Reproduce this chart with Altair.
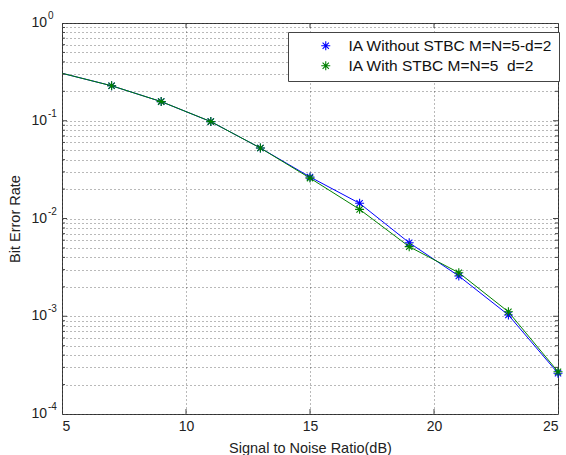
import altair as alt
import pandas as pd

# ---- data ----
snr = [5, 7, 9, 11, 13, 15, 17, 19, 21, 23, 25]
ber_without = [0.306, 0.228, 0.157, 0.098, 0.0526, 0.0266, 0.0143, 0.00565, 0.00258, 0.00103, 0.000261]
ber_with = [0.306, 0.228, 0.157, 0.098, 0.0526, 0.0259, 0.0124, 0.00515, 0.00279, 0.00111, 0.000271]
series_names = ["IA Without STBC M=N=5-d=2", "IA With STBC M=N=5\u00a0 d=2"]
series_colors = ["#0000ff", "#008000"]
x_ticks = [5, 10, 15, 20, 25]
x_inner_ticks = [10, 15, 20]
y_decades = [1e-4, 1e-3, 1e-2, 1e-1, 1.0]
y_exponents = ["-4", "-3", "-2", "-1", "0"]
y_major_inner = [1e-3, 1e-2, 1e-1]
y_minor = [m * 10.0 ** k for k in range(-4, 0) for m in range(2, 10)]
y_grid = sorted(y_minor + y_decades)

W, H = 496, 391
FONT = "Liberation Sans"
FRAME = "#444444"
ASTERISK = "M-1,0L1,0M0,-1L0,1M-0.7,-0.7L0.7,0.7M-0.7,0.7L0.7,-0.7"

rows = []
for name, vals in ((series_names[0], ber_without), (series_names[1], ber_with)):
    for x, v in zip(snr, vals):
        rows.append({"snr": x, "ber": v, "series": name})
df = pd.DataFrame(rows)

xscale = alt.Scale(domain=[5, 25], nice=False, zero=False)
yscale = alt.Scale(type="log", domain=[1e-4, 1], nice=False)

x_axis = alt.Axis(values=x_ticks, grid=True, gridDash=[1, 3], gridColor="#000000", gridOpacity=0.55,
                  ticks=False, domain=False, labelFont=FONT, labelFontSize=14, labelColor="#222222",
                  labelPadding=5, title="Signal to Noise Ratio(dB)", titleFont=FONT, titleFontSize=14.5,
                  titleFontWeight="normal", titleColor="#222222", titlePadding=8)
y_axis = alt.Axis(values=y_grid, grid=True, gridDash=[1, 3], gridColor="#000000", gridOpacity=0.55,
                  ticks=False, domain=False, labels=False, title="Bit Error Rate", titleFont=FONT,
                  titleFontSize=14.5, titleFontWeight="normal", titleColor="#222222", titlePadding=40)

base = alt.Chart(df)

lines = []
for name, col in zip(series_names, series_colors):
    lines.append(
        base.transform_filter(alt.datum.series == name).mark_line(color=col, strokeWidth=1).encode(
            x=alt.X("snr:Q", scale=xscale, axis=x_axis),
            y=alt.Y("ber:Q", scale=yscale, axis=y_axis),
        )
    )

markers = base.transform_filter(alt.datum.snr > 5).mark_point(
    shape=ASTERISK, filled=False, size=81, strokeWidth=1.1, opacity=1
).encode(
    x=alt.X("snr:Q", scale=xscale),
    y=alt.Y("ber:Q", scale=yscale),
    color=alt.Color("series:N", scale=alt.Scale(domain=series_names, range=series_colors),
                    legend=alt.Legend(title=None, orient="none", legendX=226, legendY=9,
                                      strokeColor=FRAME, fillColor="white", padding=6,
                                      labelFont=FONT, labelFontSize=15.5, labelColor="#111111",
                                      labelLimit=400,
                                      symbolType=ASTERISK, symbolSize=81, symbolStrokeWidth=1.1,
                                      symbolOffset=24, labelOffset=15, rowPadding=3)),
)

# inner tick marks (MATLAB style)
xt = alt.Chart(pd.DataFrame({"t": x_inner_ticks}))
tick_bottom = xt.mark_rule(color=FRAME).encode(x=alt.X("t:Q", scale=xscale), y=alt.value(H), y2=alt.value(H - 5))
tick_top = xt.mark_rule(color=FRAME).encode(x=alt.X("t:Q", scale=xscale), y=alt.value(0), y2=alt.value(5))
ymaj = alt.Chart(pd.DataFrame({"t": y_major_inner}))
ymin = alt.Chart(pd.DataFrame({"t": y_minor}))
tick_yl = ymaj.mark_rule(color=FRAME).encode(y=alt.Y("t:Q", scale=yscale), x=alt.value(0), x2=alt.value(5))
tick_yr = ymaj.mark_rule(color=FRAME).encode(y=alt.Y("t:Q", scale=yscale), x=alt.value(W), x2=alt.value(W - 5))
tick_yml = ymin.mark_rule(color=FRAME).encode(y=alt.Y("t:Q", scale=yscale), x=alt.value(0), x2=alt.value(3))
tick_ymr = ymin.mark_rule(color=FRAME).encode(y=alt.Y("t:Q", scale=yscale), x=alt.value(W), x2=alt.value(W - 3))

# y labels as 10^k
dec = alt.Chart(pd.DataFrame({"v": y_decades, "e": y_exponents}))
lab10 = dec.mark_text(align="right", baseline="middle", font=FONT, fontSize=14, color="#222222").encode(
    y=alt.Y("v:Q", scale=yscale), x=alt.value(-15), text=alt.value("10"))
labexp = dec.mark_text(align="left", baseline="middle", font=FONT, fontSize=10, color="#222222", dy=-7).encode(
    y=alt.Y("v:Q", scale=yscale), x=alt.value(-14), text="e:N")

chart = alt.layer(
    *lines, markers, tick_bottom, tick_top, tick_yl, tick_yr, tick_yml, tick_ymr, lab10, labexp
).properties(
    width=W, height=H, background="white",
    autosize=alt.AutoSizeParams(type="none"),
    padding={"left": 62, "top": 23, "right": 8, "bottom": 41},
).configure_view(stroke=FRAME, strokeWidth=1)

chart.save("out.html", embed_options={"renderer": "svg", "actions": False})
